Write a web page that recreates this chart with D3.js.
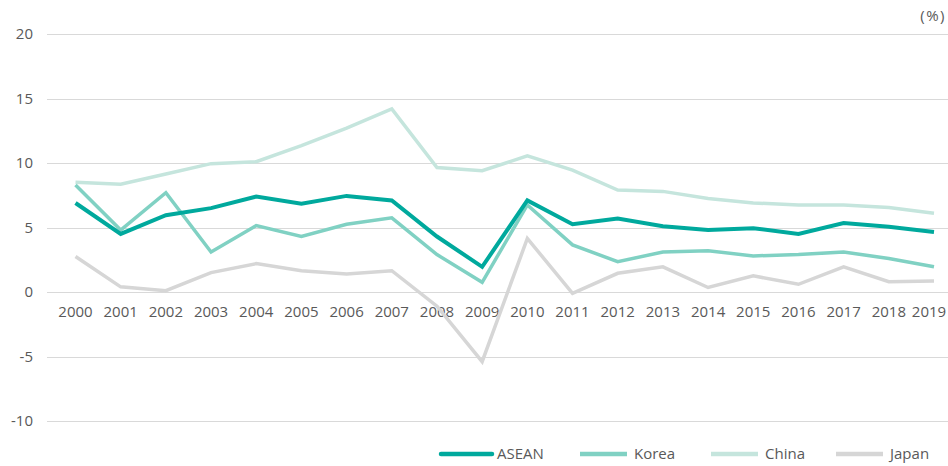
<!DOCTYPE html>
<html>
<head>
<meta charset="utf-8">
<script src="https://cdn.jsdelivr.net/npm/d3@7"></script>
<style>
  html, body { margin: 0; padding: 0; background: #fff; }
  svg text { font-family: "Open Sans", sans-serif; fill: #595959; }
</style>
</head>
<body>
<svg id="chart" width="948" height="466"></svg>
<script>
// data (%)
const years = ['2000','2001','2002','2003','2004','2005','2006','2007','2008','2009',
               '2010','2011','2012','2013','2014','2015','2016','2017','2018','2019'];
const asean = [6.9, 4.5, 5.95, 6.5, 7.4, 6.85, 7.45, 7.1, 4.3, 1.95,
               7.1, 5.25, 5.7, 5.1, 4.8, 4.95, 4.5, 5.35, 5.05, 4.65];
const korea = [8.3, 4.8, 7.7, 3.1, 5.15, 4.3, 5.25, 5.75, 2.9, 0.75,
               6.75, 3.65, 2.35, 3.1, 3.2, 2.8, 2.9, 3.1, 2.6, 1.95];
const china = [8.5, 8.35, 9.15, 9.95, 10.1, 11.35, 12.7, 14.2, 9.65, 9.4,
               10.55, 9.45, 7.9, 7.8, 7.25, 6.9, 6.75, 6.75, 6.55, 6.1];
const japan = [2.75, 0.4, 0.1, 1.5, 2.2, 1.65, 1.4, 1.65, -1.1, -5.4,
               4.15, -0.1, 1.45, 1.95, 0.35, 1.25, 0.6, 1.95, 0.8, 0.85];
const yTicks = [20, 15, 10, 5, 0, -5, -10];

const seriesNames = ['ASEAN', 'Korea', 'China', 'Japan'];
const seriesValues = [asean, korea, china, japan];
const seriesColors = ['#00a99d', '#80d1c3', '#c5e5dd', '#d6d6d6'];

const svg = d3.select('#chart');

const x = d3.scalePoint().domain(years).range([75.5, 934]);
const y = d3.scaleLinear().domain([-10, 20]).range([421, 34]);

// gridlines
svg.append('g')
  .selectAll('line')
  .data(yTicks)
  .enter().append('line')
  .attr('x1', 47).attr('x2', 948)
  .attr('y1', d => Math.round(y(d)) + 0.5)
  .attr('y2', d => Math.round(y(d)) + 0.5)
  .attr('stroke', '#d9d9d9')
  .attr('stroke-width', 1);

// y labels
svg.append('g')
  .selectAll('text')
  .data(yTicks)
  .enter().append('text')
  .attr('x', 33)
  .attr('y', d => y(d))
  .attr('dy', '0.35em')
  .attr('text-anchor', 'end')
  .style('font-size', '15px')
  .text(d => d);

// x labels (under the zero line)
svg.append('g')
  .selectAll('text')
  .data(years)
  .enter().append('text')
  .attr('x', (d, i) => i === years.length - 1 ? x(d) - 5 : x(d))
  .attr('y', y(0) + 25)
  .attr('text-anchor', 'middle')
  .style('font-size', '15px')
  .text(d => d);

// unit
svg.append('text')
  .attr('x', 946)
  .attr('y', 21)
  .attr('text-anchor', 'end')
  .style('font-size', '15px')
  .style('letter-spacing', '1.5px')
  .text('(%)');

const line = d3.line()
  .x((d, i) => x(years[i]))
  .y(d => y(d));

// draw back to front so ASEAN sits on top
[3, 2, 1, 0].forEach(k => {
  svg.append('path')
    .datum(seriesValues[k])
    .attr('fill', 'none')
    .attr('stroke', seriesColors[k])
    .attr('stroke-width', k === 0 ? 4 : 3.5)
    .attr('stroke-linejoin', 'miter')
    .attr('d', line);
});

// legend
const legendX = [441, 580, 711, 836];
const legend = svg.append('g');
seriesNames.forEach((name, k) => {
  legend.append('line')
    .attr('x1', legendX[k]).attr('x2', legendX[k] + (k === 0 ? 51 : 47))
    .attr('y1', 454).attr('y2', 454)
    .attr('stroke', seriesColors[k])
    .attr('stroke-width', 4.5)
    .attr('stroke-linecap', k === 0 ? 'round' : 'butt');
  legend.append('text')
    .attr('x', legendX[k] + (k === 0 ? 56 : 54))
    .attr('y', 454)
    .attr('dy', '0.35em')
    .style('font-size', '15px')
    .text(name);
});
</script>
</body>
</html>
